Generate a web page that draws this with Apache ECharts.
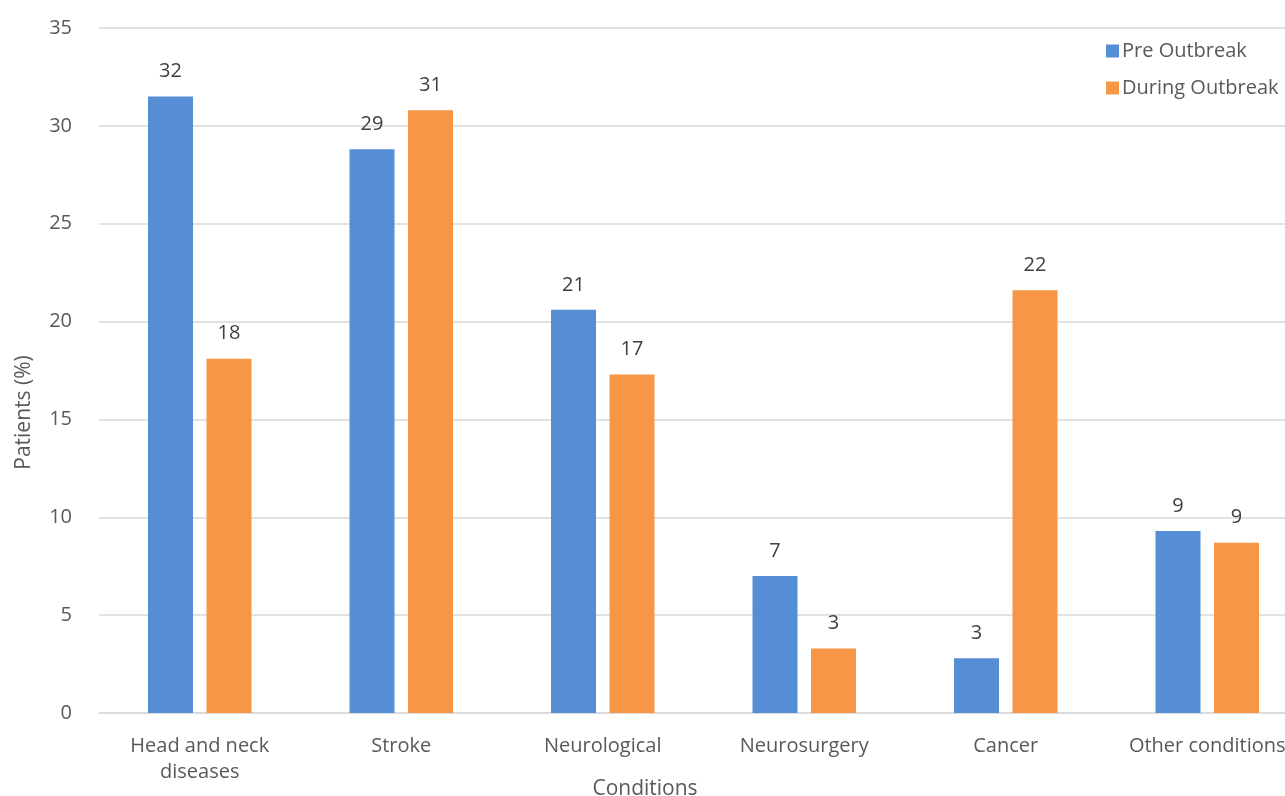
<!DOCTYPE html>
<html>
<head>
<meta charset="utf-8">
<script src="https://cdn.jsdelivr.net/npm/echarts@6/dist/echarts.min.js"></script>
<style>
  html, body { margin: 0; padding: 0; background: #ffffff; }
  #chart { width: 1285px; height: 796px; }
</style>
</head>
<body>
<div id="chart"></div>
<script>
// Share of patients by condition, before and during the outbreak
const categories = ['Head and neck\ndiseases', 'Stroke', 'Neurological', 'Neurosurgery', 'Cancer', 'Other conditions'];
const preOutbreak = [31.5, 28.8, 20.6, 7.0, 2.8, 9.3];
const duringOutbreak = [18.1, 30.8, 17.3, 3.3, 21.6, 8.7];
const seriesNames = ['Pre Outbreak', 'During Outbreak'];
const yTicks = { min: 0, max: 35, interval: 5 };

const textColor = '#595959';
const fontFamily = '"Open Sans", sans-serif';

const chart = echarts.init(document.getElementById('chart'), null, { renderer: 'canvas' });

const labelOpt = {
  show: true,
  position: 'top',
  distance: 15,
  color: '#404040',
  fontSize: 20,
  fontFamily: fontFamily,
  formatter: p => Math.round(p.value)
};

chart.setOption({
  animation: false,
  backgroundColor: '#ffffff',
  textStyle: { fontFamily: fontFamily },
  grid: { left: 99, right: -23, top: 28, bottom: 83, containLabel: false, outerBoundsMode: 'none' },
  legend: {
    data: seriesNames,
    orient: 'vertical',
    left: 1101,
    top: 36,
    itemWidth: 13,
    itemHeight: 13,
    itemGap: 17,
    icon: 'rect',
    textStyle: { color: textColor, fontSize: 20, fontFamily: fontFamily, padding: [0, 0, 0, -2] }
  },
  xAxis: {
    type: 'category',
    data: categories,
    name: 'Conditions',
    nameLocation: 'middle',
    nameGap: 66,
    nameMoveOverlap: false,
    nameTextStyle: { color: textColor, fontSize: 21, fontFamily: fontFamily, padding: [0, 117, 0, 0] },
    axisLine: { show: true, lineStyle: { color: '#d9d9d9', width: 1.5 } },
    axisTick: { show: false },
    axisLabel: { color: textColor, fontSize: 20, fontFamily: fontFamily, margin: 20, lineHeight: 26, interval: 0 }
  },
  yAxis: {
    type: 'value',
    min: yTicks.min,
    max: yTicks.max,
    interval: yTicks.interval,
    name: 'Patients (%)',
    nameLocation: 'middle',
    nameGap: 64,
    nameMoveOverlap: false,
    nameTextStyle: { color: textColor, fontSize: 21, fontFamily: fontFamily, padding: [0, 0, 0, -84] },
    axisLine: { show: false },
    axisTick: { show: false },
    axisLabel: { color: textColor, fontSize: 20, fontFamily: fontFamily, margin: 27 },
    splitLine: { show: true, lineStyle: { color: '#d9d9d9', width: 1.5 } }
  },
  series: [
    {
      name: seriesNames[0],
      type: 'bar',
      data: preOutbreak,
      barWidth: 45,
      barGap: '30%',
      itemStyle: { color: '#558ED5' },
      label: labelOpt
    },
    {
      name: seriesNames[1],
      type: 'bar',
      data: duringOutbreak,
      barWidth: 45,
      barGap: '30%',
      itemStyle: { color: '#F79646' },
      label: labelOpt
    }
  ]
});
</script>
</body>
</html>
